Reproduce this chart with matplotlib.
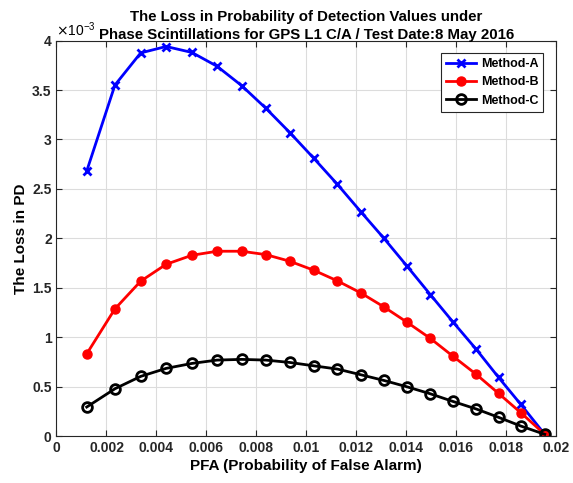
import numpy as np
import matplotlib
matplotlib.use("Agg")
import matplotlib.pyplot as plt

plt.rcParams['font.family'] = ['Liberation Sans', 'DejaVu Sans']

# PFA values (x axis)
pfa = [0.00121, 0.00234, 0.00337, 0.00439, 0.00542, 0.00643, 0.00741, 0.00838,
       0.00934, 0.0103, 0.01125, 0.01218, 0.01311, 0.01403, 0.01497, 0.01587,
       0.01681, 0.0177, 0.01859, 0.01955]

# loss in PD, in units of 1e-3
loss_a = [2.68, 3.55, 3.875, 3.94, 3.88, 3.74, 3.545, 3.316, 3.07, 2.81,
          2.545, 2.27, 2.0, 1.72, 1.43, 1.155, 0.876, 0.593, 0.32, 0.017]
loss_b = [0.831, 1.286, 1.566, 1.737, 1.828, 1.869, 1.869, 1.835, 1.768, 1.677,
          1.569, 1.448, 1.306, 1.152, 0.987, 0.808, 0.623, 0.431, 0.236, 0.017]
loss_c = [0.293, 0.478, 0.603, 0.684, 0.734, 0.768, 0.775, 0.768, 0.744, 0.71,
          0.677, 0.62, 0.562, 0.498, 0.427, 0.35, 0.273, 0.189, 0.101, 0.017]

x = np.array(pfa)
ya = np.array(loss_a) * 1e-3
yb = np.array(loss_b) * 1e-3
yc = np.array(loss_c) * 1e-3

fig = plt.figure(figsize=(5.73, 4.83), dpi=100)
ax = fig.add_axes([0.0986, 0.0973, 0.8717, 0.8187])

ax.plot(x, ya, '-x', color='blue', lw=2, ms=6, mew=2, label='Method-A')
ax.plot(x, yb, '-o', color='red', lw=2, ms=6.5, label='Method-B')
ax.plot(x, yc, '-o', color='black', lw=2, ms=7, mew=2, mfc='none', label='Method-C')

ax.set_xlim(0, 0.02)
ax.set_ylim(0, 4e-3)
ax.set_xticks(np.arange(0, 0.0201, 0.002))
ax.set_yticks(np.arange(0, 0.00401, 0.0005))
ax.set_xticklabels(['0', '0.002', '0.004', '0.006', '0.008', '0.01', '0.012',
                    '0.014', '0.016', '0.018', '0.02'])
ax.set_yticklabels(['0', '0.5', '1', '1.5', '2', '2.5', '3', '3.5', '4'])
ax.text(0.0, 1.003, r'$\times$10$^{\mathregular{-3}}$', transform=ax.transAxes,
        fontsize=10, ha='left', va='bottom')

ax.grid(True, color='#dcdcdc', lw=0.8)
ax.set_axisbelow(True)
ax.tick_params(direction='in', top=True, right=True, length=4, width=0.8,
               labelsize=10, colors='#262626')
for lab in ax.get_xticklabels() + ax.get_yticklabels():
    lab.set_fontweight('bold')
for sp in ax.spines.values():
    sp.set_color('#262626')

ax.set_xlabel('PFA (Probability of False Alarm)', fontsize=11, fontweight='bold', labelpad=3)
ax.set_ylabel('The Loss in PD', fontsize=11, fontweight='bold', labelpad=3)
ax.set_title('The Loss in Probability of Detection Values under\n'
             'Phase Scintillations for GPS L1 C/A / Test Date:8 May 2016',
             fontsize=10.8, fontweight='bold', pad=1, linespacing=1.35)

leg = ax.legend(loc='upper right', prop={'weight': 'bold', 'size': 9},
                fancybox=False, edgecolor='#262626', framealpha=1,
                handlelength=2.4, borderaxespad=1.0, labelspacing=0.5,
                borderpad=0.4, handletextpad=0.4)
leg.get_frame().set_linewidth(0.8)

fig.savefig('out.png', dpi=100)
